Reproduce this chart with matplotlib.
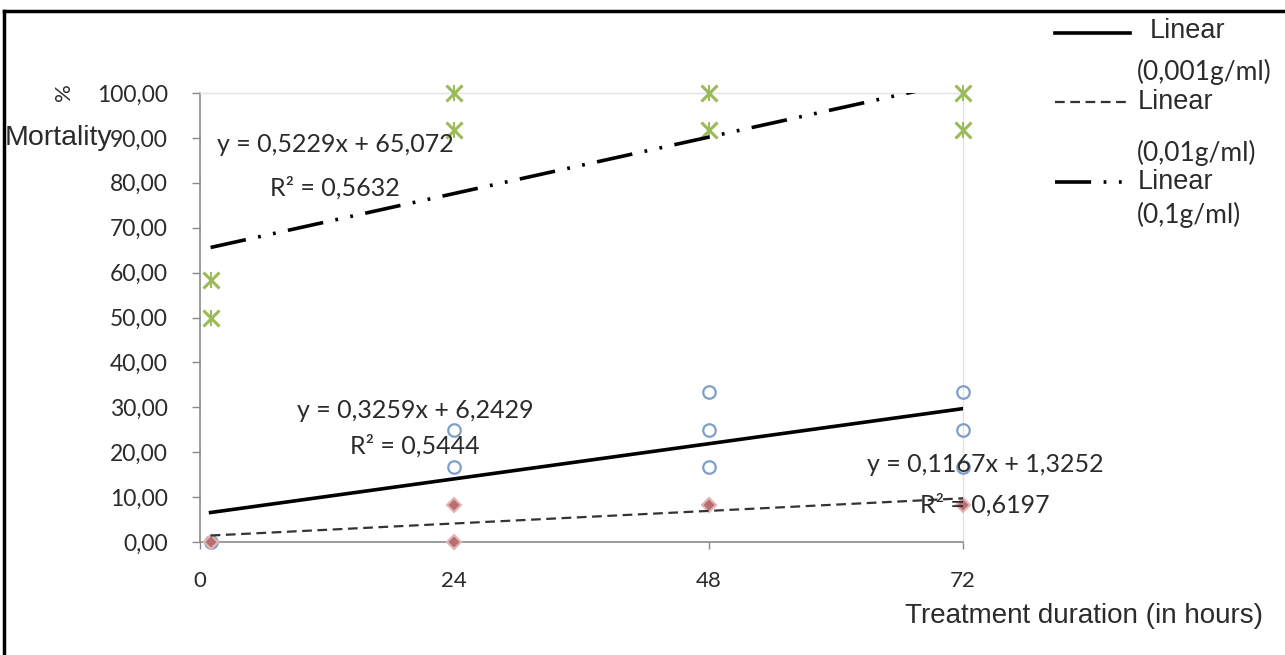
import numpy as np
import matplotlib
matplotlib.use("Agg")
import matplotlib.pyplot as plt
from matplotlib.lines import Line2D
from matplotlib.ticker import FuncFormatter

plt.rcParams['lines.scale_dashes'] = False

# data (x = hours, y = % mortality)
x_0001 = [1, 24, 24, 48, 48, 48, 72, 72, 72]
y_0001 = [0, 25, 16.67, 33.33, 25, 16.67, 33.33, 25, 16.67]
x_001 = [1, 24, 24, 48, 72]
y_001 = [0, 8.33, 0, 8.33, 8.33]
x_01 = [1, 1, 24, 24, 48, 48, 72, 72]
y_01 = [58.33, 50, 100, 91.67, 100, 91.67, 100, 91.67]

# trendline coefficients (slope, intercept)
fit_0001 = (0.3259, 6.2429)
fit_001 = (0.1167, 1.3252)
fit_01 = (0.5229, 65.072)
r2_0001 = 0.5444
r2_001 = 0.6197
r2_01 = 0.5632

xticks = [0, 24, 48, 72]
yticks = [0, 10, 20, 30, 40, 50, 60, 70, 80, 90, 100]

W, H = 1285, 655
fig = plt.figure(figsize=(W / 100, H / 100), dpi=100)

def fx(px):
    return px / W

def fy(py):
    return 1 - py / H

ax = fig.add_axes([fx(200), fy(542), fx(963) - fx(200), fy(93) - fy(542)])
ax.set_xlim(0, 72)
ax.set_ylim(0, 100)

num_font = 'Lato'
txt_col = '#2b2b2b'

# markers
ax.plot(x_0001, y_0001, 'o', ms=9, mfc='none', mec='#7e9fc8', mew=1.6, clip_on=False, zorder=3)
ax.plot(x_001, y_001, 'D', ms=7, mfc='#b86f70', mec='#e4b4b4', mew=1.5, clip_on=False, zorder=4)
ax.plot(x_01, y_01, 'x', ms=12, mec='#9bbb59', mew=2.2, clip_on=False, zorder=3)
ax.plot(x_01, y_01, '|', ms=12, mec='#9bbb59', mew=1.4, clip_on=False, zorder=3)

# trendlines
xs = np.array([1, 72])
ax.plot(xs, fit_0001[0] * xs + fit_0001[1], color='black', lw=2.6, zorder=5)
l2, = ax.plot(xs, fit_001[0] * xs + fit_001[1], color='#333333', lw=1.6, zorder=5)
l2.set_dashes((7, 4))
l3, = ax.plot(xs, fit_01[0] * xs + fit_01[1], color='black', lw=2.6, zorder=5)
l3.set_dashes((26, 9, 2, 9, 2, 9))

# axes styling
for s in ['top', 'right']:
    ax.spines[s].set_color('#e2e2e2')
    ax.spines[s].set_linewidth(1)
for s in ['left', 'bottom']:
    ax.spines[s].set_color('#8a8a8a')
    ax.spines[s].set_linewidth(1.2)
ax.set_xticks(xticks)
ax.set_yticks(yticks)
ax.yaxis.set_major_formatter(FuncFormatter(lambda v, p: f"{v:.2f}".replace('.', ',')))
ax.tick_params(axis='y', direction='out', length=6, width=1, color='#8a8a8a', pad=17,
               labelsize=16.5, labelcolor=txt_col)
ax.tick_params(axis='x', direction='out', length=5, width=1, color='#8a8a8a', pad=16,
               labelsize=16, labelcolor=txt_col)
for lab in ax.get_xticklabels() + ax.get_yticklabels():
    lab.set_family(num_font)

# equations
def eq_text(slope, icpt, r2, cx, cy1, cy2):
    s = f"y = {slope:.4f}x + {icpt:g}".replace('.', ',')
    fig.text(fx(cx), fy(cy1), s, ha='center', va='center', fontsize=18, family=num_font, color=txt_col)
    fig.text(fx(cx), fy(cy2), f"R² = {r2:.4f}".replace('.', ','), ha='center', va='center',
             fontsize=18, family=num_font, color=txt_col)

eq_text(fit_01[0], fit_01[1], r2_01, 335, 145, 188)
eq_text(fit_0001[0], fit_0001[1], r2_0001, 415, 410, 446)
eq_text(fit_001[0], fit_001[1], r2_001, 985, 465, 505)

# axis titles
fig.text(fx(5), fy(138), "Mortality", ha='left', va='center', fontsize=20.5,
         family='Liberation Sans', color=txt_col)
fig.text(fx(64), fy(92), "%", ha='center', va='center', fontsize=16, rotation=90,
         family=num_font, color=txt_col)
fig.text(fx(905), fy(616), "Treatment duration (in hours)", ha='left', va='center',
         fontsize=20, family='Liberation Sans', color=txt_col)

# legend
leg1 = Line2D([fx(1055), fx(1130)], [fy(33), fy(33)], color='black', lw=2.6)
leg2 = Line2D([fx(1055), fx(1130)], [fy(102), fy(102)], color='#333333', lw=1.6)
leg2.set_dashes((7, 4))
leg3 = Line2D([fx(1055), fx(1130)], [fy(182), fy(182)], color='black', lw=2.6)
leg3.set_dashes((26, 9, 2, 9, 2, 9))
for l in (leg1, leg2, leg3):
    fig.add_artist(l)
fig.text(fx(1150), fy(31), "Linear", ha='left', va='center', fontsize=19.5, family='Liberation Sans', color=txt_col)
fig.text(fx(1137), fy(72), "(0,001g/ml)", ha='left', va='center', fontsize=19, family=num_font, color=txt_col)
fig.text(fx(1138), fy(102), "Linear", ha='left', va='center', fontsize=19.5, family='Liberation Sans', color=txt_col)
fig.text(fx(1137), fy(153), "(0,01g/ml)", ha='left', va='center', fontsize=19, family=num_font, color=txt_col)
fig.text(fx(1138), fy(182), "Linear", ha='left', va='center', fontsize=19.5, family='Liberation Sans', color=txt_col)
fig.text(fx(1137), fy(215), "(0,1g/ml)", ha='left', va='center', fontsize=19, family=num_font, color=txt_col)

# outer frame (top and left only)
fig.add_artist(Line2D([fx(4), fx(1285)], [fy(11), fy(11)], color='black', lw=2.5))
fig.add_artist(Line2D([fx(4), fx(4)], [fy(11), fy(655)], color='black', lw=2.5))

fig.savefig('out.png', dpi=100)
